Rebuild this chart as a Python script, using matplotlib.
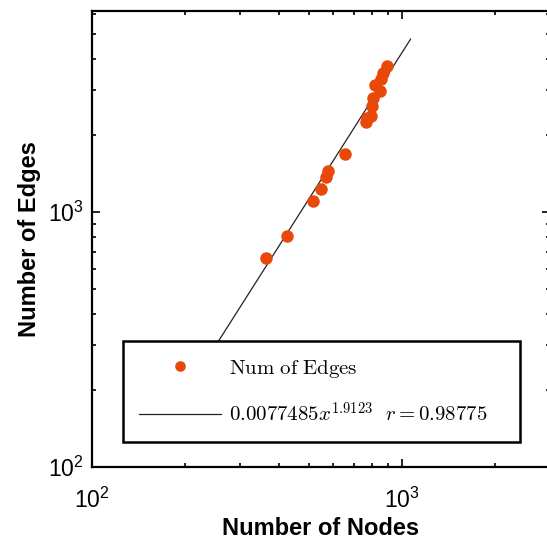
import numpy as np
import matplotlib
matplotlib.use('Agg')
import matplotlib.pyplot as plt
from matplotlib.ticker import FixedLocator, FuncFormatter, LogLocator, NullFormatter

plt.rcParams['font.family'] = 'Liberation Sans'
plt.rcParams['mathtext.fontset'] = 'custom'
plt.rcParams['mathtext.rm'] = 'Liberation Sans'
plt.rcParams['mathtext.it'] = 'Liberation Sans:italic'

# data
nodes = [364, 426, 516, 548, 569, 577, 655, 765, 772, 795, 800, 806, 818, 849, 855, 868, 895]
edges = [660, 805, 1104, 1231, 1371, 1448, 1688, 2254, 2330, 2378, 2604, 2800, 3150, 2984, 3326, 3510, 3740]
coef = 0.0077485
expo = 1.9123
r_val = 0.98775

fig = plt.figure(figsize=(5.47, 5.42), dpi=100)
ax = fig.add_axes([92/547, 75/542, 458/547, 456/542])

fx = np.array([min(nodes)*0.5, max(nodes)*1.19])
ax.loglog(fx, coef*fx**expo, color='#222222', lw=0.9, label=r'$0.0077485x^{1.9123}\ \ r = 0.98775$', zorder=2)
ax.loglog(nodes, edges, 'o', color='#E8490A', ms=9, mec='none', label=r'$\mathrm{Num\ of\ Edges}$', zorder=3)

ax.set_xlim(100, 3000)
ax.set_ylim(100, 6150)

fmt = FuncFormatter(lambda v, p: r'$\mathregular{10^{%d}}$' % round(np.log10(v)))
for a in (ax.xaxis, ax.yaxis):
    a.set_major_locator(FixedLocator([100, 1000]))
    a.set_major_formatter(fmt)
    a.set_minor_locator(LogLocator(base=10, subs=np.arange(2, 10)))
    a.set_minor_formatter(NullFormatter())
ax.tick_params(which='both', direction='in', top=True, right=True, width=1.2, labelsize=16.5)
ax.tick_params(which='major', length=6)
ax.tick_params(which='minor', length=3)
ax.tick_params(axis='x', pad=15)
ax.tick_params(axis='y', pad=6)
for s in ax.spines.values():
    s.set_linewidth(1.6)

ax.set_xlabel('Number of Nodes', fontsize=17, fontweight='bold', labelpad=3)
ax.set_ylabel('Number of Edges', fontsize=17, fontweight='bold', labelpad=5)

h, l = ax.get_legend_handles_labels()
leg = ax.legend([h[1], h[0]], [l[1], l[0]], loc='lower left',
                bbox_to_anchor=(0.0677, 0.055, 0.8668, 0.221), mode='expand',
                fontsize=15, frameon=True, fancybox=False, borderpad=0.78,
                labelspacing=1.05, handlelength=3.9, handletextpad=0.4,
                markerscale=0.85, borderaxespad=0)
leg.get_frame().set_edgecolor('black')
leg.get_frame().set_linewidth(1.8)
leg.get_frame().set_alpha(1)
for t in leg.get_texts():
    t.set_math_fontfamily('cm')

fig.savefig('out.png', dpi=100)
